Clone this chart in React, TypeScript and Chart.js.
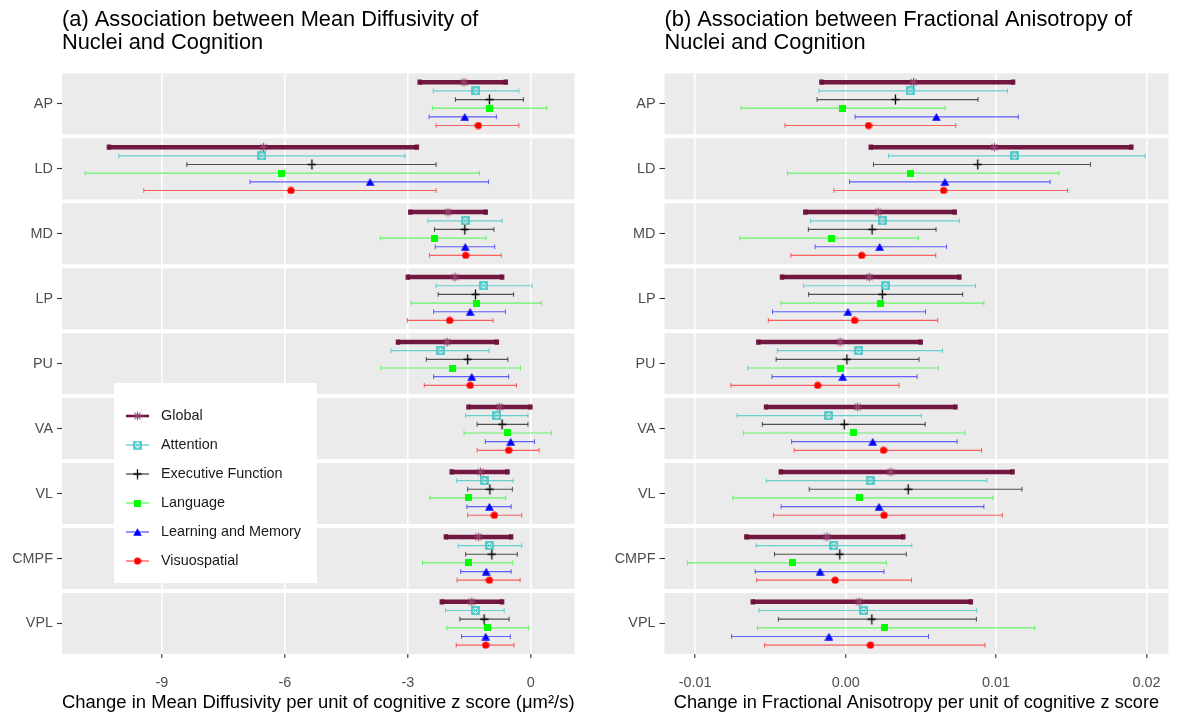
import React, { useEffect, useRef } from 'react';
import { Chart, registerables } from 'chart.js';

Chart.register(...registerables);
Chart.defaults.font.family = "'Liberation Sans', Arial, Helvetica, sans-serif";

// ---------- categories ----------
const NUCLEI = ['AP', 'LD', 'MD', 'LP', 'PU', 'VA', 'VL', 'CMPF', 'VPL'];
const SERIES = ['Global', 'Attention', 'Executive Function', 'Language', 'Learning and Memory', 'Visuospatial'];

// ---------- panel (a): Mean Diffusivity (order follows NUCLEI) ----------
const mdGlobal = [-1.63, -6.52, -2.02, -1.85, -2.04, -0.76, -1.23, -1.28, -1.44];
const mdGlobalLo = [-2.71, -10.29, -2.94, -3.0, -3.24, -1.52, -1.93, -2.07, -2.17];
const mdGlobalHi = [-0.61, -2.78, -1.1, -0.7, -0.83, -0.01, -0.57, -0.48, -0.7];

const mdAttention = [-1.34, -6.56, -1.6, -1.15, -2.2, -0.83, -1.13, -1.01, -1.35];
const mdAttentionLo = [-2.38, -10.05, -2.51, -2.31, -3.41, -1.59, -1.81, -1.77, -2.08];
const mdAttentionHi = [-0.29, -3.07, -0.7, 0.03, -1.02, -0.07, -0.43, -0.22, -0.65];

const mdExecutive = [-1.01, -5.34, -1.61, -1.35, -1.54, -0.7, -1.0, -0.95, -1.14];
const mdExecutiveLo = [-1.84, -8.39, -2.35, -2.26, -2.55, -1.31, -1.54, -1.59, -1.73];
const mdExecutiveHi = [-0.18, -2.31, -0.9, -0.42, -0.56, -0.07, -0.45, -0.33, -0.53];

const mdLanguage = [-1.0, -6.07, -2.36, -1.32, -1.91, -0.57, -1.52, -1.51, -1.05];
const mdLanguageLo = [-2.4, -10.87, -3.67, -2.92, -3.66, -1.63, -2.46, -2.64, -2.05];
const mdLanguageHi = [0.39, -1.25, -1.09, 0.26, -0.25, 0.5, -0.61, -0.44, -0.05];

const mdMemory = [-1.61, -3.92, -1.6, -1.48, -1.44, -0.49, -1.01, -1.09, -1.1];
const mdMemoryLo = [-2.48, -6.85, -2.33, -2.37, -2.37, -1.11, -1.56, -1.71, -1.69];
const mdMemoryHi = [-0.84, -1.03, -0.88, -0.62, -0.54, 0.09, -0.48, -0.48, -0.5];

const mdVisuo = [-1.28, -5.85, -1.59, -1.98, -1.48, -0.54, -0.89, -1.01, -1.1];
const mdVisuoLo = [-2.31, -9.44, -2.47, -3.01, -2.6, -1.31, -1.54, -1.8, -1.82];
const mdVisuoHi = [-0.29, -2.31, -0.72, -0.92, -0.35, 0.2, -0.22, -0.26, -0.41];

// ---------- panel (b): Fractional Anisotropy ----------
const faGlobal = [0.00451, 0.00989, 0.00216, 0.00157, -0.00037, 0.0008, 0.003, -0.00124, 0.00089];
const faGlobalLo = [-0.00161, 0.00167, -0.00268, -0.00423, -0.0058, -0.00529, -0.00431, -0.0066, -0.00617];
const faGlobalHi = [0.01113, 0.01899, 0.00725, 0.00756, 0.00499, 0.0073, 0.01109, 0.00383, 0.00832];

const faAttention = [0.00429, 0.01122, 0.00244, 0.00265, 0.00087, -0.00114, 0.00163, -0.00078, 0.0012];
const faAttentionLo = [-0.00177, 0.00285, -0.00233, -0.00279, -0.00454, -0.00722, -0.00527, -0.00595, -0.00575];
const faAttentionHi = [0.01076, 0.01991, 0.00756, 0.00863, 0.00644, 0.00503, 0.00939, 0.0044, 0.00871];

const faExecutive = [0.00331, 0.00878, 0.00176, 0.00244, 0.00008, -0.00009, 0.00416, -0.00039, 0.00174];
const faExecutiveLo = [-0.0019, 0.00185, -0.00248, -0.00246, -0.00462, -0.00554, -0.00242, -0.00473, -0.00447];
const faExecutiveHi = [0.0088, 0.01627, 0.00601, 0.00778, 0.00488, 0.00529, 0.01172, 0.00403, 0.00869];

const faLanguage = [-0.00018, 0.00429, -0.00096, 0.00233, -0.00031, 0.0005, 0.00089, -0.00353, 0.00261];
const faLanguageLo = [-0.00695, -0.00386, -0.00702, -0.00429, -0.00652, -0.0068, -0.0075, -0.01052, -0.00586];
const faLanguageHi = [0.00662, 0.01418, 0.00484, 0.00919, 0.00614, 0.00793, 0.00978, 0.0027, 0.01257];

const faMemory = [0.00603, 0.0066, 0.00226, 0.00015, -0.0002, 0.0018, 0.00222, -0.0017, -0.00111];
const faMemoryLo = [0.00063, 0.00026, -0.00203, -0.00486, -0.0049, -0.00359, -0.00429, -0.00601, -0.00758];
const faMemoryHi = [0.01148, 0.01359, 0.00671, 0.00531, 0.00475, 0.00741, 0.00919, 0.00255, 0.00551];

const faVisuo = [0.00152, 0.00651, 0.00107, 0.00059, -0.00186, 0.00252, 0.00255, -0.0007, 0.00165];
const faVisuoLo = [-0.00403, -0.00078, -0.00364, -0.00514, -0.00763, -0.00342, -0.0048, -0.00591, -0.00539];
const faVisuoHi = [0.00732, 0.01475, 0.00599, 0.00612, 0.00355, 0.00904, 0.01041, 0.00438, 0.00926];

// ---------- tick labels ----------
const MD_TICKS = [-9, -6, -3, 0];
const MD_TICK_LABELS = ['-9', '-6', '-3', '0'];
const FA_TICKS = [-0.01, 0, 0.01, 0.02];
const FA_TICK_LABELS = ['-0.01', '0.00', '0.01', '0.02'];

// ---------- styles ----------
const LINE_COLORS = [
  'rgba(108,16,58,0.97)',
  'rgba(70,200,200,0.8)',
  'rgba(30,30,30,0.75)',
  'rgba(70,245,70,0.8)',
  'rgba(50,50,255,0.75)',
  'rgba(255,50,50,0.75)',
];
const LINE_WIDTHS = [4.5, 1.2, 1.2, 1.2, 1.2, 1.2];
const CAP_RADIUS = [2.6, 2.4, 2.4, 2.4, 2.4, 2.4];
const CAP_WIDTHS = [4.5, 1, 1, 1, 1, 1];
const LEGEND_LINE_WIDTHS = [2.6, 1.4, 1.4, 1.4, 1.4, 1.4];
const FACET_PERIOD = 65;
const FACET_HALF = 30.5 / FACET_PERIOD;
const DODGE = 8.67 / FACET_PERIOD;
const PANEL_BG = '#EBEBEB';

function makeCanvas(w: number, h: number) {
  const c = document.createElement('canvas');
  c.width = w;
  c.height = h;
  return c;
}

function makeMarkers(): HTMLCanvasElement[] {
  // Global: asterisk
  const star = makeCanvas(11, 11);
  {
    const g = star.getContext('2d')!;
    g.strokeStyle = '#93406D';
    g.lineWidth = 1.1;
    const cx = 5.5, cy = 5.5, r = 4.3;
    g.beginPath();
    for (let k = 0; k < 4; k++) {
      const a = (k * Math.PI) / 4;
      g.moveTo(cx - r * Math.cos(a), cy - r * Math.sin(a));
      g.lineTo(cx + r * Math.cos(a), cy + r * Math.sin(a));
    }
    g.stroke();
  }
  // Attention: square with cross
  const sqx = makeCanvas(9, 9);
  {
    const g = sqx.getContext('2d')!;
    g.strokeStyle = '#2EC2C2';
    g.lineWidth = 1.5;
    g.strokeRect(1, 1, 7, 7);
    g.lineWidth = 0.9;
    g.beginPath();
    g.moveTo(1.5, 1.5); g.lineTo(7.5, 7.5);
    g.moveTo(7.5, 1.5); g.lineTo(1.5, 7.5);
    g.stroke();
  }
  // Executive: plus
  const plus = makeCanvas(9, 11);
  {
    const g = plus.getContext('2d')!;
    g.strokeStyle = '#000000';
    g.lineWidth = 1.3;
    g.beginPath();
    g.moveTo(4.5, 0.5); g.lineTo(4.5, 10.5);
    g.moveTo(0.5, 5.5); g.lineTo(8.5, 5.5);
    g.stroke();
  }
  // Language: filled square
  const sq = makeCanvas(7, 7);
  {
    const g = sq.getContext('2d')!;
    g.fillStyle = '#00FF00';
    g.fillRect(0, 0, 7, 7);
  }
  // Learning and Memory: triangle
  const tri = makeCanvas(9, 8);
  {
    const g = tri.getContext('2d')!;
    g.fillStyle = '#0000FF';
    g.beginPath();
    g.moveTo(4.5, 0.3);
    g.lineTo(8.8, 7.7);
    g.lineTo(0.2, 7.7);
    g.closePath();
    g.fill();
  }
  // Visuospatial: circle
  const circ = makeCanvas(8, 8);
  {
    const g = circ.getContext('2d')!;
    g.fillStyle = '#FF0000';
    g.beginPath();
    g.arc(4, 4, 3.6, 0, Math.PI * 2);
    g.fill();
  }
  return [star, sqx, plus, sq, tri, circ];
}

const facetPlugin = {
  id: 'facetBackground',
  beforeDraw(chart: any) {
    const { ctx, chartArea, scales } = chart;
    const y = scales.y;
    ctx.save();
    ctx.fillStyle = PANEL_BG;
    NUCLEI.forEach((_, i) => {
      const top = y.getPixelForValue(i - FACET_HALF);
      const bot = y.getPixelForValue(i + FACET_HALF);
      ctx.fillRect(chartArea.left, top, chartArea.right - chartArea.left, bot - top);
    });
    ctx.restore();
  },
};

function makeLegendPlugin(markers: HTMLCanvasElement[]) {
  return {
    id: 'customLegend',
    afterDraw(chart: any) {
      const ctx = chart.ctx;
      ctx.save();
      ctx.fillStyle = '#FFFFFF';
      ctx.fillRect(114, 383, 203, 200);
      ctx.font = "14.4px 'Liberation Sans', Arial, sans-serif";
      ctx.textBaseline = 'middle';
      ctx.textAlign = 'left';
      SERIES.forEach((name, s) => {
        const y = 416 + s * 29;
        ctx.strokeStyle = LINE_COLORS[s];
        ctx.lineWidth = LEGEND_LINE_WIDTHS[s];
        ctx.beginPath();
        ctx.moveTo(126, y);
        ctx.lineTo(149, y);
        ctx.stroke();
        const m = markers[s];
        ctx.drawImage(m, 137.5 - m.width / 2, y - m.height / 2);
        ctx.fillStyle = '#1A1A1A';
        ctx.fillText(name, 161, y + 0.5);
      });
      ctx.restore();
    },
  };
}

interface PanelSpec {
  title: string[];
  axisTitle: string;
  axisTitleSize: number;
  est: number[][];
  lo: number[][];
  hi: number[][];
  xMin: number;
  xMax: number;
  ticks: number[];
  tickLabels: string[];
  yAxisWidth: number;
  padRight: number;
  legend: boolean;
}

function buildChart(canvas: HTMLCanvasElement, spec: PanelSpec) {
  const markers = makeMarkers();
  const datasets: any[] = [];
  SERIES.forEach((name, s) => {
    datasets.push({
      label: name,
      data: NUCLEI.map((_, f) => ({ x: spec.est[s][f], y: f + (s - 2.5) * DODGE })),
      pointStyle: markers[s],
      pointRadius: 5,
      showLine: false,
    });
  });
  SERIES.forEach((name, s) => {
    NUCLEI.forEach((nuc, f) => {
      const y = f + (s - 2.5) * DODGE;
      datasets.push({
        label: name + ' ' + nuc,
        data: [
          { x: spec.lo[s][f], y },
          { x: spec.hi[s][f], y },
        ],
        showLine: true,
        borderColor: LINE_COLORS[s],
        borderWidth: LINE_WIDTHS[s],
        pointStyle: 'line',
        rotation: 90,
        pointRadius: CAP_RADIUS[s],
        pointBorderWidth: CAP_WIDTHS[s],
        pointBorderColor: LINE_COLORS[s],
        pointBackgroundColor: LINE_COLORS[s],
      });
    });
  });

  const plugins: any[] = [facetPlugin];
  if (spec.legend) plugins.push(makeLegendPlugin(markers));

  return new Chart(canvas, {
    type: 'scatter',
    data: { datasets },
    plugins,
    options: {
      animation: false,
      responsive: false,
      events: [],
      layout: { padding: { left: 0, right: spec.padRight, top: 0, bottom: 0 } },
      plugins: {
        legend: { display: false },
        tooltip: { enabled: false },
        title: {
          display: true,
          text: spec.title,
          align: 'start',
          fullSize: false,
          color: '#000000',
          font: { size: 21.8, weight: 'normal', lineHeight: 1.05 },
          padding: { top: 9, bottom: 18.6 },
        },
      },
      scales: {
        x: {
          type: 'linear',
          min: spec.xMin,
          max: spec.xMax,
          afterBuildTicks: (sc: any) => {
            sc.ticks = spec.ticks.map((v) => ({ value: v }));
          },
          afterFit: (sc: any) => {
            sc.height = 59;
          },
          ticks: {
            callback: (_v: any, i: number) => spec.tickLabels[i],
            color: '#4D4D4D',
            font: { size: 14.4 },
            padding: 16,
            maxRotation: 0,
            autoSkip: false,
          },
          grid: {
            color: '#FFFFFF',
            lineWidth: 1.6,
            tickColor: '#333333',
            tickWidth: 1.1,
            tickLength: 4,
          },
          border: { display: false },
          title: {
            display: true,
            text: spec.axisTitle,
            color: '#000000',
            font: { size: spec.axisTitleSize },
            padding: { top: 0, bottom: -1 },
          },
        },
        y: {
          type: 'linear',
          reverse: true,
          min: -FACET_HALF,
          max: NUCLEI.length - 1 + FACET_HALF,
          afterBuildTicks: (sc: any) => {
            sc.ticks = NUCLEI.map((_, i) => ({ value: i }));
          },
          afterFit: (sc: any) => {
            sc.width = spec.yAxisWidth;
          },
          ticks: {
            callback: (v: any) => NUCLEI[Math.round(v)],
            color: '#4D4D4D',
            font: { size: 14.4 },
            padding: 4,
            autoSkip: false,
          },
          grid: {
            drawOnChartArea: false,
            color: '#333333',
            tickColor: '#333333',
            tickWidth: 1.1,
            tickLength: 5,
          },
          border: { display: false },
        },
      },
    } as any,
  });
}

const MD_SPEC: PanelSpec = {
  title: ['(a) Association between Mean Diffusivity of', 'Nuclei and Cognition'],
  axisTitle: 'Change in Mean Diffusivity per unit of cognitive z score (\u03bcm\u00b2/s)',
  axisTitleSize: 18.7,
  est: [mdGlobal, mdAttention, mdExecutive, mdLanguage, mdMemory, mdVisuo],
  lo: [mdGlobalLo, mdAttentionLo, mdExecutiveLo, mdLanguageLo, mdMemoryLo, mdVisuoLo],
  hi: [mdGlobalHi, mdAttentionHi, mdExecutiveHi, mdLanguageHi, mdMemoryHi, mdVisuoHi],
  xMin: -11.435,
  xMax: 1.068,
  ticks: MD_TICKS,
  tickLabels: MD_TICK_LABELS,
  yAxisWidth: 62,
  padRight: 25.4,
  legend: true,
};

const FA_SPEC: PanelSpec = {
  title: ['(b) Association between Fractional Anisotropy of', 'Nuclei and Cognition'],
  axisTitle: 'Change in Fractional Anisotropy per unit of cognitive z score',
  axisTitleSize: 18.2,
  est: [faGlobal, faAttention, faExecutive, faLanguage, faMemory, faVisuo],
  lo: [faGlobalLo, faAttentionLo, faExecutiveLo, faLanguageLo, faMemoryLo, faVisuoLo],
  hi: [faGlobalHi, faAttentionHi, faExecutiveHi, faLanguageHi, faMemoryHi, faVisuoHi],
  xMin: -0.01204,
  xMax: 0.02146,
  ticks: FA_TICKS,
  tickLabels: FA_TICK_LABELS,
  yAxisWidth: 64.5,
  padRight: 0,
  legend: false,
};

function Panel({ spec, width, height }: { spec: PanelSpec; width: number; height: number }) {
  const ref = useRef<HTMLCanvasElement | null>(null);
  useEffect(() => {
    if (!ref.current) return;
    const chart = buildChart(ref.current, spec);
    return () => chart.destroy();
  }, [spec]);
  return <canvas ref={ref} width={width} height={height} style={{ width, height, display: 'block' }} />;
}

export default function App() {
  return (
    <div style={{ position: 'absolute', left: 0, top: 0, width: 1177, height: 713, background: '#FFFFFF', overflow: 'hidden' }}>
      <div style={{ position: 'absolute', left: 0, top: 0, width: 600, height: 713 }}>
        <Panel spec={MD_SPEC} width={600} height={713} />
      </div>
      <div style={{ position: 'absolute', left: 600, top: 0, width: 577, height: 713 }}>
        <Panel spec={FA_SPEC} width={577} height={713} />
      </div>
    </div>
  );
}
